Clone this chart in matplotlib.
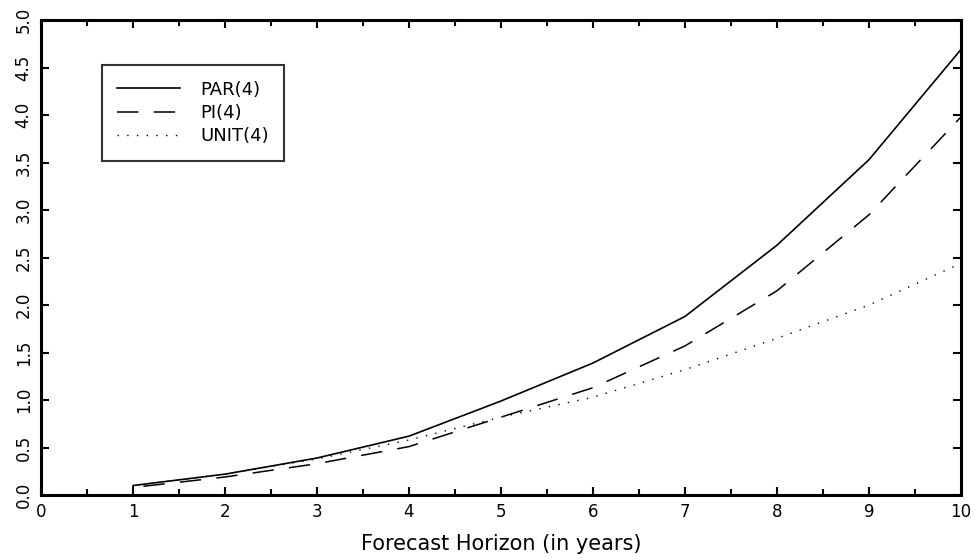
import matplotlib
matplotlib.use("Agg")
import matplotlib.pyplot as plt
from matplotlib.ticker import MultipleLocator

# forecast horizon; all series sit at zero until year 1, then jump
horizon = [0, 1, 1, 2, 3, 4, 5, 6, 7, 8, 9, 10]
par4 = [0, 0, 0.10, 0.22, 0.39, 0.62, 0.99, 1.39, 1.88, 2.63, 3.53, 4.69]
pi4 = [0, 0, 0.08, 0.19, 0.33, 0.51, 0.82, 1.13, 1.57, 2.15, 2.95, 3.98]
unit4 = [0, 0, 0.10, 0.22, 0.38, 0.58, 0.82, 1.03, 1.32, 1.65, 2.00, 2.44]

xticks = [0, 1, 2, 3, 4, 5, 6, 7, 8, 9, 10]
yticks = [0.0, 0.5, 1.0, 1.5, 2.0, 2.5, 3.0, 3.5, 4.0, 4.5, 5.0]

fig = plt.figure(figsize=(9.78, 5.6), dpi=100)
ax = fig.add_axes([0.042, 0.116, 0.9405, 0.848])

ax.plot(horizon, par4, "-", color="black", linewidth=1.2, label="PAR(4)")
ax.plot(horizon, pi4, color="black", linewidth=1.1, linestyle=(0, (14, 10)), label="PI(4)")
ax.plot(horizon, unit4, color="black", linewidth=1.0, linestyle=(0, (1, 6)), label="UNIT(4)")

ax.set_xlim(0, 10)
ax.set_ylim(0, 5)
ax.set_xticks(xticks)
ax.set_xticklabels([str(t) for t in xticks], fontsize=12)
ax.xaxis.set_minor_locator(MultipleLocator(0.5))
ax.set_yticks(yticks)
ax.set_yticklabels(["%.1f" % t for t in yticks], fontsize=12, rotation=90, va="center")

ax.tick_params(which="both", direction="in", top=True, right=True, width=1.5)
ax.tick_params(which="major", length=6, pad=6)
ax.tick_params(which="minor", length=4)

for s in ax.spines.values():
    s.set_linewidth(2.2)

ax.set_xlabel("Forecast Horizon (in years)", fontsize=15, labelpad=9)

leg = ax.legend(loc="upper left", bbox_to_anchor=(0.066, 0.905), borderaxespad=0,
                fontsize=13, frameon=True, fancybox=False, edgecolor="black",
                handlelength=3.5, borderpad=0.85, labelspacing=0.3, handletextpad=1.1)
leg.get_frame().set_linewidth(1.5)

plt.savefig("out.png", dpi=100)
